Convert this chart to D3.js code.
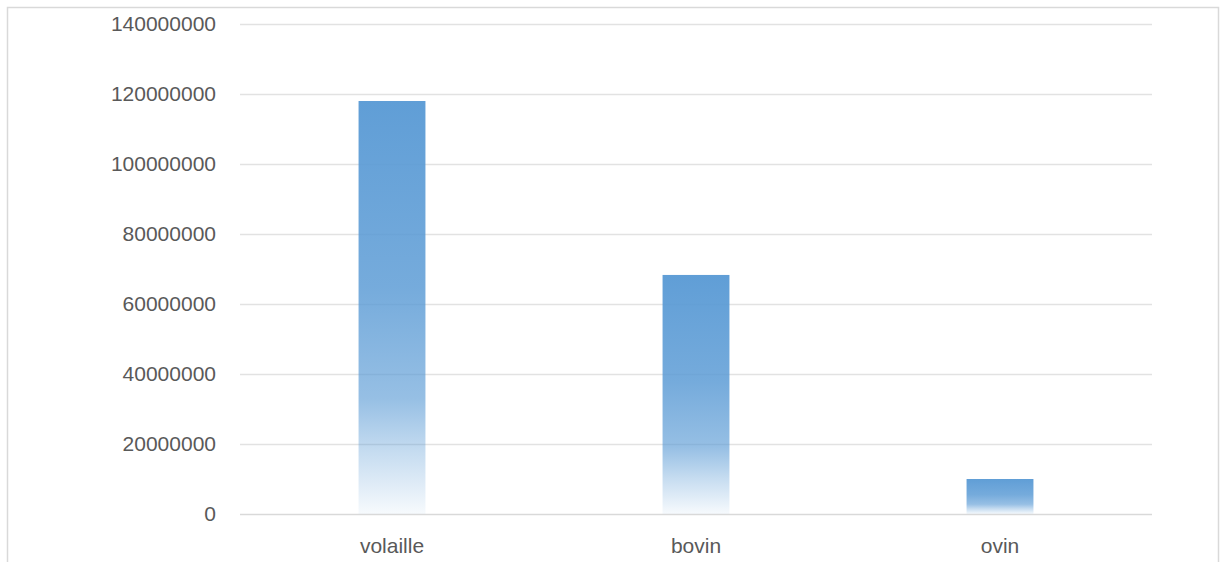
<!DOCTYPE html>
<html>
<head>
<meta charset="utf-8">
<script src="https://cdn.jsdelivr.net/npm/d3@7"></script>
<style>
  html, body { margin: 0; padding: 0; background: #fff; }
  svg { display: block; }
  text { font-family: "Liberation Sans", Arial, sans-serif; fill: #595959; }
</style>
</head>
<body>
<svg id="chart" width="1225" height="562"></svg>
<script>
// Livestock counts by category
const categories = ["volaille", "bovin", "ovin"];
const values = [118000000, 68300000, 10000000];
const yTicks = [0, 20000000, 40000000, 60000000, 80000000, 100000000, 120000000, 140000000];

const W = 1225, H = 562;
const margin = { left: 240, right: 73, top: 24, bottom: 48 };

const svg = d3.select("#chart");

// Chart area frame
svg.append("rect")
  .attr("x", 7.5).attr("y", 7.5)
  .attr("width", 1211).attr("height", 600)
  .attr("fill", "#fff")
  .attr("stroke", "#d9d9d9")
  .attr("stroke-width", 1.5);

const x = d3.scaleBand()
  .domain(categories)
  .range([margin.left, W - margin.right])
  .paddingInner(0.78)
  .paddingOuter(0.39);

const y = d3.scaleLinear()
  .domain([0, 140000000])
  .range([H - margin.bottom, margin.top]);

// Vertical gradient: accent blue fading to transparent at the base
const defs = svg.append("defs");
const grad = defs.append("linearGradient")
  .attr("id", "barGrad")
  .attr("x1", 0).attr("y1", 0).attr("x2", 0).attr("y2", 1);
[
  { o: 0, a: 0.97 },
  { o: 0.45, a: 0.84 },
  { o: 0.72, a: 0.64 },
  { o: 0.85, a: 0.35 },
  { o: 1, a: 0.05 }
].forEach(s => grad.append("stop")
  .attr("offset", s.o)
  .attr("stop-color", "#5b9bd5")
  .attr("stop-opacity", s.a));

// Horizontal gridlines
const yAxis = d3.axisLeft(y)
  .tickValues(yTicks)
  .tickSize(-(W - margin.left - margin.right))
  .tickPadding(24)
  .tickFormat(d3.format("d"));

const gy = svg.append("g")
  .attr("transform", `translate(${margin.left},0)`)
  .call(yAxis);
gy.select(".domain").remove();
gy.selectAll(".tick line")
  .attr("stroke", d => d === 0 ? "#d9d9d9" : "#e2e2e2")
  .attr("stroke-width", 1.5);
gy.selectAll(".tick text")
  .style("font-size", "21px")
  .attr("fill", "#595959");

// Bars
svg.append("g")
  .selectAll("rect")
  .data(categories)
  .join("rect")
  .attr("x", d => x(d))
  .attr("width", x.bandwidth())
  .attr("y", (d, i) => y(values[i]))
  .attr("height", (d, i) => y(0) - y(values[i]))
  .attr("fill", "url(#barGrad)");

// Category axis
const xAxis = d3.axisBottom(x).tickSize(0).tickPadding(24);
const gx = svg.append("g")
  .attr("transform", `translate(0,${y(0)})`)
  .call(xAxis);
gx.select(".domain").remove();
gx.selectAll(".tick text")
  .style("font-size", "21px")
  .attr("fill", "#595959");
</script>
</body>
</html>
